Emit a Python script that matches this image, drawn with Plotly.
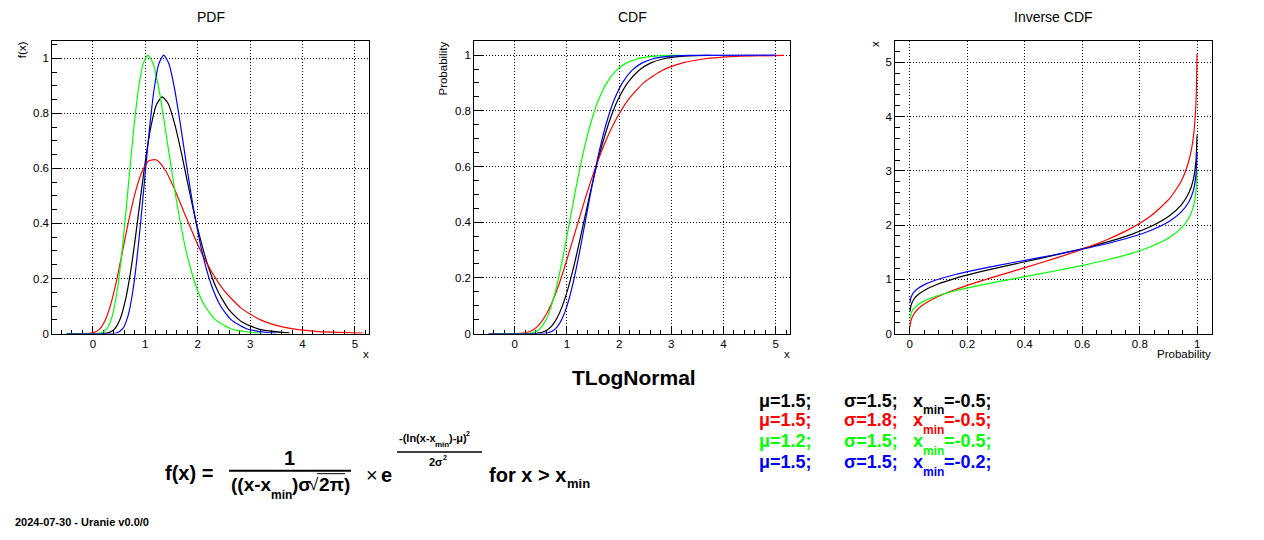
import plotly.graph_objects as go

# ---------------- data ----------------
# black : mu=1.5, sigma=1.5, xmin=-0.5
black_x = [-0.5, 0.2, 0.3, 0.406, 0.522, 0.628, 0.715, 0.808, 0.908, 1.016, 1.113, 1.215, 1.324,
           1.440, 1.563, 1.695, 1.834, 1.982, 2.173, 2.378, 2.599, 2.837, 3.183, 3.656, 3.75]
black_pdf = [0, 0.0004, 0.0032, 0.0151, 0.0539, 0.1276, 0.2192, 0.3441, 0.4937, 0.6474, 0.7575, 0.8327,
             0.8599, 0.8342, 0.7602, 0.6508, 0.5234, 0.3954, 0.2601, 0.1563, 0.0859, 0.0431, 0.0150,
             0.0033, 0.0024]
black_cdf = [0, 0.00002, 0.0002, 0.0010, 0.0047, 0.0139, 0.0287, 0.0548, 0.0968, 0.1587, 0.2266, 0.3085,
             0.4013, 0.5, 0.5987, 0.6915, 0.7734, 0.8413, 0.9032, 0.9452, 0.9713, 0.9861, 0.9953,
             0.9990, 0.9993]

# red : mu=1.5, sigma=1.8, xmin=-0.5
red_x = [-0.5, -0.1, 0.0, 0.122, 0.241, 0.355, 0.452, 0.559, 0.679, 0.813, 0.935, 1.069, 1.216, 1.376,
         1.552, 1.743, 1.953, 2.182, 2.486, 2.824, 3.200, 3.618, 4.251, 5.160]
red_pdf = [0, 0.0002, 0.0024, 0.0152, 0.0513, 0.1161, 0.1930, 0.2930, 0.4067, 0.5159, 0.5872, 0.6278,
           0.6306, 0.5950, 0.5274, 0.4392, 0.3435, 0.2524, 0.1606, 0.0934, 0.0496, 0.0241, 0.0080, 0.0017]
red_cdf = [0, 0.00001, 0.0001, 0.0010, 0.0047, 0.0139, 0.0287, 0.0548, 0.0968, 0.1587, 0.2266, 0.3085,
           0.4013, 0.5, 0.5987, 0.6915, 0.7734, 0.8413, 0.9032, 0.9452, 0.9713, 0.9861, 0.9953, 0.9990]

# green : mu=1.2, sigma=1.5, xmin=-0.5
green_x = [-0.5, 0.05, 0.15, 0.270, 0.369, 0.459, 0.532, 0.612, 0.697, 0.789, 0.871, 0.958, 1.051,
           1.149, 1.254, 1.365, 1.484, 1.610, 1.772, 1.947, 2.134, 2.337, 2.631, 3.032, 3.2]
green_pdf = [0, 0.0001, 0.0020, 0.0178, 0.0634, 0.1501, 0.2578, 0.4048, 0.5808, 0.7616, 0.8912, 0.9797,
             1.0117, 0.9814, 0.8944, 0.7657, 0.6158, 0.4652, 0.3060, 0.1839, 0.1010, 0.0507, 0.0176,
             0.0039, 0.0020]
green_cdf = [0, 0.000005, 0.00008, 0.0010, 0.0047, 0.0139, 0.0287, 0.0548, 0.0968, 0.1587, 0.2266, 0.3085,
             0.4013, 0.5, 0.5987, 0.6915, 0.7734, 0.8413, 0.9032, 0.9452, 0.9713, 0.9861, 0.9953,
             0.9990, 0.9995]

# blue : mu=1.5, sigma=1.5, xmin=-0.2
blue_x = [-0.5, 0.35, 0.45, 0.570, 0.669, 0.759, 0.832, 0.912, 0.997, 1.089, 1.171, 1.258, 1.351,
          1.449, 1.554, 1.665, 1.784, 1.910, 2.072, 2.247, 2.434, 2.637, 2.931, 3.332, 3.5]
blue_pdf = [0, 0.0001, 0.0020, 0.0178, 0.0634, 0.1501, 0.2578, 0.4048, 0.5808, 0.7616, 0.8912, 0.9797,
            1.0117, 0.9814, 0.8944, 0.7657, 0.6158, 0.4652, 0.3060, 0.1839, 0.1010, 0.0507, 0.0176,
            0.0039, 0.0020]
blue_cdf = [0, 0.000005, 0.00008, 0.0010, 0.0047, 0.0139, 0.0287, 0.0548, 0.0968, 0.1587, 0.2266, 0.3085,
            0.4013, 0.5, 0.5987, 0.6915, 0.7734, 0.8413, 0.9032, 0.9452, 0.9713, 0.9861, 0.9953,
            0.9990, 0.9995]
blue_cdf_tail_x = [5.0]
blue_cdf_tail_p = [1.0]

legend_mu = ["1.5", "1.5", "1.2", "1.5"]
legend_sigma = ["1.5", "1.8", "1.5", "1.5"]
legend_xmin = ["-0.5", "-0.5", "-0.5", "-0.2"]
panel_titles = ["PDF", "CDF", "Inverse CDF"]

COLORS = ["#000000", "#ff0000", "#00ff00", "#0000ff"]
FONT = "Liberation Sans, Arial, Helvetica, sans-serif"
W, H = 1264, 540


def px(v):
    return v / W


def py(v):
    return 1 - v / H


curves = [
    (black_x, black_pdf, black_cdf),
    (red_x, red_pdf, red_cdf),
    (green_x, green_pdf, green_cdf),
    (blue_x, blue_pdf, blue_cdf),
]

fig = go.Figure()
LINE = dict(width=1.2, shape="spline", smoothing=0.6)

for (xs, pdf, cdf), col in zip(curves, COLORS):
    fig.add_trace(go.Scatter(x=xs, y=pdf, xaxis="x", yaxis="y", mode="lines",
                             line=dict(color=col, **LINE), hoverinfo="skip", showlegend=False))
for i, ((xs, pdf, cdf), col) in enumerate(zip(curves, COLORS)):
    cx, cy = list(xs), list(cdf)
    if i == 3:
        cx += blue_cdf_tail_x
        cy += blue_cdf_tail_p
    fig.add_trace(go.Scatter(x=cx, y=cy, xaxis="x2", yaxis="y2", mode="lines",
                             line=dict(color=col, **LINE), hoverinfo="skip", showlegend=False))
for (xs, pdf, cdf), col in zip(curves, COLORS):
    pairs = [(p, q) for p, q in zip(cdf, xs) if 0.00099 <= p <= 0.99901]
    fig.add_trace(go.Scatter(x=[p for p, _ in pairs], y=[q for _, q in pairs], xaxis="x3", yaxis="y3",
                             mode="lines", line=dict(color=col, **LINE), hoverinfo="skip",
                             showlegend=False))

TICKFONT = dict(family=FONT, size=11.5, color="black")


def axis(domain, rng, dtick, mdtick, anchor, tlen, mlen):
    return dict(domain=domain, range=rng, anchor=anchor, tick0=0, dtick=dtick,
                ticks="inside", ticklen=tlen, tickwidth=1, tickcolor="black",
                showline=True, linecolor="black", linewidth=1, mirror=True,
                showgrid=True, gridcolor="black", griddash="1px,2px", gridwidth=1,
                zeroline=False, layer="below traces", fixedrange=True,
                tickfont=TICKFONT,
                minor=dict(dtick=mdtick, tick0=0, ticks="inside", ticklen=mlen,
                           tickcolor="black", tickwidth=1, showgrid=False))


ydom = [py(337.3), py(41.7)]
fig.update_layout(
    width=W, height=H, autosize=False,
    margin=dict(l=0, r=0, t=0, b=0),
    paper_bgcolor="white", plot_bgcolor="white",
    xaxis=axis([px(52.3), px(369.3)], [-0.775, 5.275], 1, 0.2, "y", 8, 4),
    yaxis=axis(ydom, [0, 1.062], 0.2, 0.05, "x", 9, 5),
    xaxis2=axis([px(474.3), px(790)], [-0.775, 5.275], 1, 0.2, "y2", 8, 4),
    yaxis2=axis(ydom, [0, 1.05], 0.2, 0.05, "x2", 9, 5),
    xaxis3=axis([px(895.3), px(1211.7)], [-0.05, 1.05], 0.2, 0.05, "y3", 8, 4),
    yaxis3=axis(ydom, [0, 5.39], 1, 0.2, "x3", 9, 5),
)

ann = []


def text(s, x, y, size, color="black", bold=False, xanchor="left", yanchor="middle", angle=0):
    ann.append(dict(text=("<b>%s</b>" % s) if bold else s, x=px(x), y=py(y), xref="paper",
                    yref="paper", xanchor=xanchor, yanchor=yanchor, showarrow=False,
                    textangle=angle, font=dict(family=FONT, size=size, color=color)))


# panel titles
for t, cx in zip(panel_titles, [210.8, 632.2, 1053.5]):
    text(t, cx, 17, 14, xanchor="center")

# axis titles
text("f(x)", 22.7, 50, 11.5, xanchor="center", angle=-90)
text("x", 365.7, 358, 11.5, xanchor="center")
text("Probability", 443.3, 69, 11.5, xanchor="center", angle=-90)
text("x", 786.7, 358, 11.5, xanchor="center")
text("x", 874.5, 45, 11.5, xanchor="center", angle=-90)
text("Probability", 1184, 358, 11.5, xanchor="center")

# main title
text("TLogNormal", 634, 382, 21, bold=True, xanchor="center")

# legend block
rows_y = [405, 425, 446, 467]
for mu, sg, xm, col, ry in zip(legend_mu, legend_sigma, legend_xmin, COLORS, rows_y):
    text("\u03bc=%s;" % mu, 757, ry, 18, col, True)
    text("\u03c3=%s;" % sg, 842, ry, 18, col, True)
    text("x", 911, ry, 18, col, True)
    text("min", 921, ry + 10, 12, col, True)
    text("=%s;" % xm, 942, ry, 18, col, True)

# formula
text("f(x) =", 163, 478, 20, bold=True)
text("1", 289, 463, 20, bold=True, xanchor="center")
text("((x-x", 229, 490, 19, bold=True)
text("min", 269, 501, 12, bold=True)
text(")\u03c3", 290, 490, 19, bold=True)
text("\u221a", 307, 490, 17, bold=False)
text("2\u03c0)", 317, 490, 19, bold=True)
text("\u00d7", 364, 480, 20, bold=False)
text("e", 379, 480, 20, bold=True)
text("-(ln(x-x", 397, 443, 11, bold=True)
text("min", 433, 449, 8, bold=True)
text(")-\u03bc)", 447, 443, 11, bold=True)
text("2", 464, 438, 7, bold=True)
text("2\u03c3", 436, 467, 11, bold=True, xanchor="center")
text("2", 441, 463, 7, bold=True)
text("for x > x", 487, 480, 20, bold=True)
text("min", 565, 489, 13, bold=True)

# footer
text("2024-07-30 - Uranie v0.0/0", 13, 528, 11, bold=True)

shapes = [
    dict(type="line", xref="paper", yref="paper", x0=px(229), x1=px(351), y0=py(476), y1=py(476),
         line=dict(color="black", width=2)),
    dict(type="line", xref="paper", yref="paper", x0=px(317), x1=px(345), y0=py(479), y1=py(479),
         line=dict(color="black", width=1)),
    dict(type="line", xref="paper", yref="paper", x0=px(397), x1=px(482), y0=py(457), y1=py(457),
         line=dict(color="black", width=1.5)),
]

fig.update_layout(annotations=ann, shapes=shapes)
fig.write_html("out.html", config={"displayModeBar": False},
               post_script="document.body.style.margin='0px';document.body.style.padding='0px';")
